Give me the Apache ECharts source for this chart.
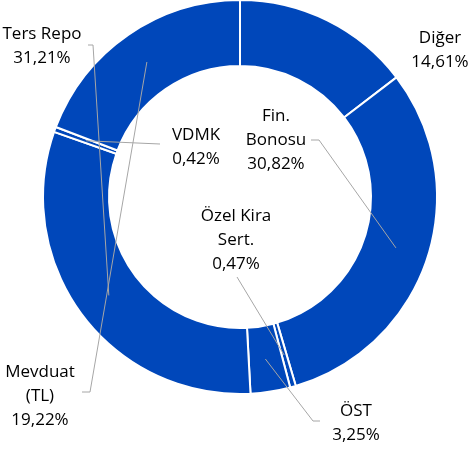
<!DOCTYPE html>
<html>
<head>
<meta charset="utf-8">
<script src="https://cdn.jsdelivr.net/npm/echarts@6/dist/echarts.min.js"></script>
<style>
  html, body { margin: 0; padding: 0; background: #fff; }
  #chart { width: 471px; height: 450px; }
</style>
</head>
<body>
<div id="chart"></div>
<script>
const names = ['Diğer', 'Fin.\nBonosu', 'Özel Kira\nSert.', 'ÖST', 'Ters Repo', 'VDMK', 'Mevduat\n(TL)']
const shares = [14.61, 30.82, 0.47, 3.25, 31.21, 0.42, 19.22]

// label centres and leader line bends (label side first)
const labelPos = [[440, 50], [276, 140], [236, 240], [356, 423], [42, 46], [196, 147], [40, 396]]
const lineBends = [null, [[311, 140], [319, 140]], [[237, 277]], [[320, 421], [313, 421]], [[88, 45], [93, 45]], [[160, 144]], [[82, 392], [90, 392]]]

const cx = 240, cy = 197, rIn = 131, rOut = 197
const total = shares.reduce((a, b) => a + b, 0)

// anchor of each leader line: middle of the ring at the slice's mid angle
let acc = 0
const anchors = shares.map(v => {
  const a = (acc + v / 2) / total * Math.PI * 2
  acc += v
  const r = (rIn + rOut) / 2
  return [cx + r * Math.sin(a), cy - r * Math.cos(a)]
})

const leaders = []
lineBends.forEach((b, i) => {
  if (!b) return
  leaders.push({
    type: 'polyline',
    silent: true,
    z: 100,
    shape: { points: [anchors[i]].concat(b.slice().reverse()) },
    style: { stroke: '#a6a6a6', lineWidth: 1, fill: null }
  })
})

const chart = echarts.init(document.getElementById('chart'))

chart.setOption({
  animation: false,
  graphic: leaders,
  series: [{
    type: 'pie',
    center: [cx, cy],
    radius: [rIn, rOut],
    startAngle: 90,
    clockwise: true,
    avoidLabelOverlap: false,
    itemStyle: { color: '#0047BA', borderColor: '#fff', borderWidth: 2 },
    label: {
      position: 'outside',
      color: '#000',
      fontFamily: 'Open Sans',
      fontSize: 17,
      lineHeight: 24,
      align: 'center',
      formatter: p => p.name + '\n' + p.value.toFixed(2).replace('.', ',') + '%'
    },
    labelLine: { show: false },
    labelLayout: p => ({
      x: labelPos[p.dataIndex][0],
      y: labelPos[p.dataIndex][1],
      align: 'center',
      verticalAlign: 'middle'
    }),
    data: names.map((n, i) => ({ name: n, value: shares[i] }))
  }]
})
</script>
</body>
</html>
